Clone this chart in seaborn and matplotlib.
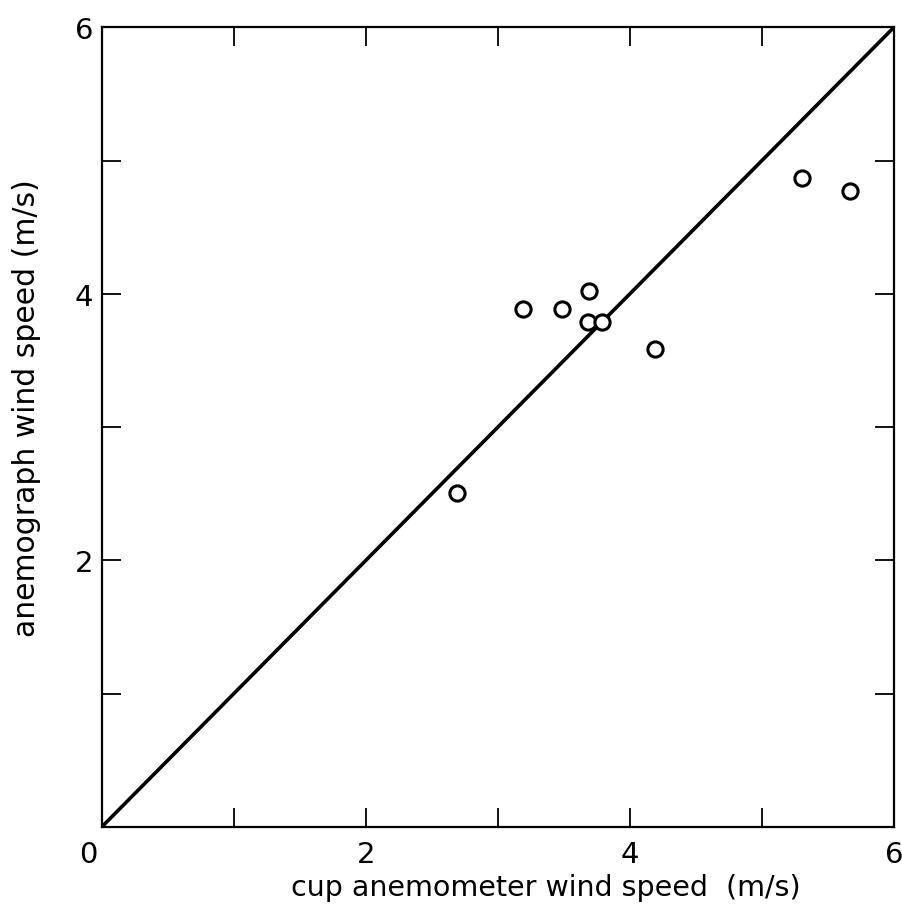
import matplotlib
matplotlib.use("Agg")
import matplotlib.pyplot as plt
import matplotlib.transforms as mtransforms
import seaborn as sns
import pandas as pd

# data
cup_speed = [2.69, 3.19, 3.49, 3.69, 3.68, 3.79, 4.19, 5.30, 5.67]
anemograph_speed = [2.51, 3.89, 3.89, 4.02, 3.79, 3.79, 3.59, 4.87, 4.77]
line_x = [0, 6]
line_y = [0, 6]
tick_values = [0, 1, 2, 3, 4, 5, 6]
x_tick_labels = ["0", "", "2", "", "4", "", "6"]
y_tick_labels = ["", "", "2", "", "4", "", "6"]

sns.set_theme(style="white")
plt.rcParams['font.family'] = ['DejaVu Sans']

fig = plt.figure(figsize=(9.03, 9.12), dpi=100)
ax = fig.add_axes([0.1125, 0.092, 0.8775, 0.877])

df = pd.DataFrame({"x": cup_speed, "y": anemograph_speed})
line_df = pd.DataFrame({"x": line_x, "y": line_y})

sns.lineplot(data=line_df, x="x", y="y", ax=ax, color="black", linewidth=2.6)
sns.scatterplot(data=df, x="x", y="y", ax=ax, marker="o", s=120,
                facecolor="white", edgecolor="black", linewidth=2.2, zorder=3)

ax.set_xlim(0, 6)
ax.set_ylim(0, 6)
ax.set_xticks(tick_values)
ax.set_yticks(tick_values)
ax.set_xticklabels(x_tick_labels)
ax.set_yticklabels(y_tick_labels)
ax.tick_params(axis="both", which="major", direction="in", length=14, width=1.3,
               color="black", top=True, right=True, bottom=True, left=True,
               labelsize=21, labelcolor="black")
ax.tick_params(axis="x", pad=9)
ax.tick_params(axis="y", pad=6)

# shift the "0" label left
lbl0 = ax.get_xticklabels()[0]
lbl0.set_transform(lbl0.get_transform() + mtransforms.ScaledTranslation(-13/100, 0, fig.dpi_scale_trans))

for sp in ax.spines.values():
    sp.set_color("black")
    sp.set_linewidth(1.6)
    sp.set_visible(True)

ax.set_xlabel("cup anemometer wind speed  (m/s)", fontsize=20.5, color="black")
ax.set_ylabel("anemograph wind speed (m/s)", fontsize=21.5, color="black")
ax.xaxis.set_label_coords(0.56, -0.058)
ax.yaxis.set_label_coords(-0.077, 0.525)

fig.savefig("out.png", dpi=100, facecolor="white")
